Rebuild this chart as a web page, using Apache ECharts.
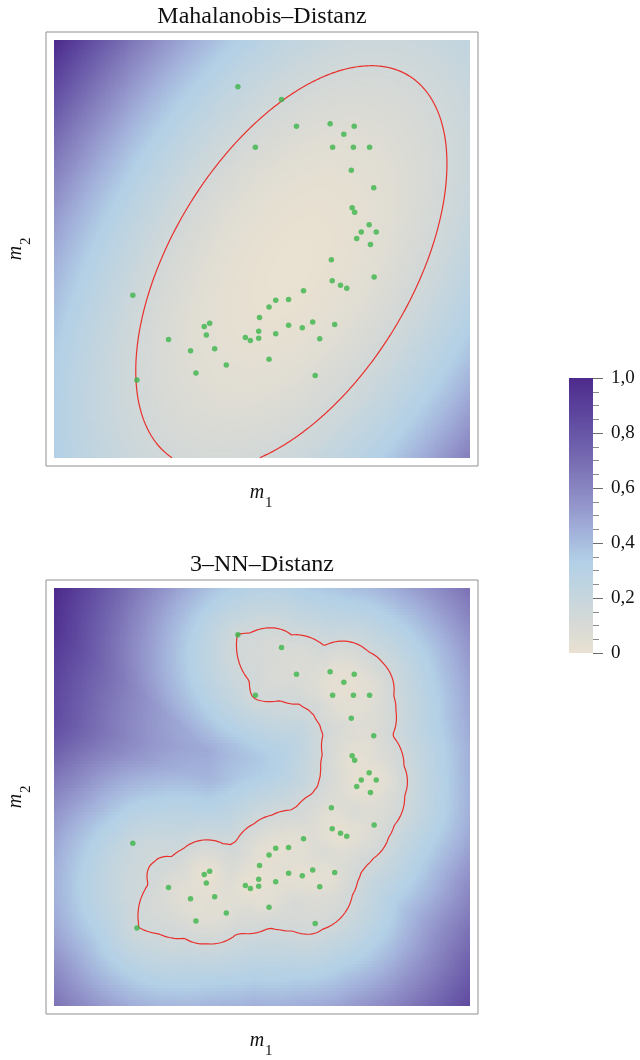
<!DOCTYPE html>
<html>
<head>
<meta charset="utf-8">
<script src="https://cdn.jsdelivr.net/npm/echarts@6/dist/echarts.min.js"></script>
<style>
  html, body { margin: 0; padding: 0; background: #ffffff; }
  #chart { width: 640px; height: 1060px; }
</style>
</head>
<body>
<div id="chart"></div>
<script>
// Measured sample (m1, m2), 51 observations
const m1 = [4.42, 5.47, 5.83, 6.64, 7.22, 6.97, 4.84, 6.70, 7.20, 7.59, 7.15, 7.69, 7.17, 7.23, 7.58, 7.39, 7.75,
            7.28, 7.61, 6.67, 7.70, 6.69, 6.89, 7.04, 6.00, 5.64, 5.33, 5.17, 4.94, 6.22, 6.75, 5.64, 5.97, 4.92,
            5.33, 4.92, 4.72, 4.60, 6.39, 5.17, 6.28, 1.89, 3.74, 3.61, 3.66, 2.75, 3.28, 3.86, 4.14, 3.41, 1.99];
const m2 = [8.89, 8.58, 7.94, 8.00, 7.94, 7.75, 7.44, 7.44, 7.44, 7.44, 6.89, 6.47, 5.99, 5.88, 5.58, 5.41, 5.41,
            5.25, 5.11, 4.74, 4.33, 4.24, 4.13, 4.06, 4.00, 3.79, 3.77, 3.61, 3.36, 3.25, 3.19, 3.17, 3.11, 3.03,
            2.97, 2.86, 2.81, 2.88, 2.85, 2.36, 1.97, 3.89, 3.22, 3.14, 2.94, 2.83, 2.56, 2.61, 2.22, 2.03, 1.86];

const panelTitles = ['Mahalanobis–Distanz', '3–NN–Distanz'];
const colorbarTicks = [0, 0.2, 0.4, 0.6, 0.8, 1.0];
const colorScale = ['#e9e1d1', '#d6d9d6', '#c3d5df', '#b2d0e6', '#a2b0da', '#9090c8', '#7d74b7', '#6a5aa9', '#5a429b', '#4d2a8c'];

const plotRange = [0, 10];          // extent of the evaluated density region
const mahalanobisLevel = 5.66;      // squared Mahalanobis distance of the red ellipse
const kNeighbours = 3;
const knnLevel = 0.875;             // mean 3-NN distance of the red outline

// ---------- distance fields ----------
const n = m1.length;
const meanX = m1.reduce((s, v) => s + v, 0) / n;
const meanY = m2.reduce((s, v) => s + v, 0) / n;
let sxx = 0, syy = 0, sxy = 0;
for (let i = 0; i < n; i++) {
  const dx = m1[i] - meanX, dy = m2[i] - meanY;
  sxx += dx * dx; syy += dy * dy; sxy += dx * dy;
}
sxx /= (n - 1); syy /= (n - 1); sxy /= (n - 1);
const det = sxx * syy - sxy * sxy;
const ixx = syy / det, iyy = sxx / det, ixy = -sxy / det;

// squared Mahalanobis distance to the sample mean
function mahalanobisSq(x, y) {
  const dx = x - meanX, dy = y - meanY;
  return ixx * dx * dx + 2 * ixy * dx * dy + iyy * dy * dy;
}

// mean distance to the k nearest observations
function knnDistance(x, y) {
  const best = [];
  for (let i = 0; i < n; i++) {
    const d = Math.hypot(x - m1[i], y - m2[i]);
    if (best.length < kNeighbours || d < best[best.length - 1]) {
      best.push(d);
      best.sort((a, b) => a - b);
      if (best.length > kNeighbours) best.pop();
    }
  }
  return best.reduce((s, v) => s + v, 0) / kNeighbours;
}

// cell grid, values rescaled to [0, 1] over the plotted region
const CELLS = 140;
const cellStep = (plotRange[1] - plotRange[0]) / CELLS;
function cellData(fn) {
  const raw = [];
  let lo = Infinity, hi = -Infinity;
  for (let i = 0; i < CELLS; i++) {
    for (let j = 0; j < CELLS; j++) {
      const x = plotRange[0] + (i + 0.5) * cellStep;
      const y = plotRange[0] + (j + 0.5) * cellStep;
      const v = fn(x, y);
      lo = Math.min(lo, v); hi = Math.max(hi, v);
      raw.push([x, y, v]);
    }
  }
  return raw.map(r => [r[0], r[1], (r[2] - lo) / (hi - lo)]);
}

// marching squares: iso-line of fn at the given level, chained into polylines
function contourLines(fn, level, N) {
  const h = (plotRange[1] - plotRange[0]) / N;
  const X = i => plotRange[0] + i * h;
  const f = [];
  for (let i = 0; i <= N; i++) {
    f.push([]);
    for (let j = 0; j <= N; j++) f[i].push(fn(X(i), X(j)));
  }
  const keyPt = new Map();
  const segs = [];
  function edgePoint(kind, i, j) {
    const key = kind + i + '_' + j;
    if (!keyPt.has(key)) {
      let p;
      if (kind === 'h') {
        const t = (level - f[i][j]) / (f[i + 1][j] - f[i][j]);
        p = [X(i) + t * h, X(j)];
      } else {
        const t = (level - f[i][j]) / (f[i][j + 1] - f[i][j]);
        p = [X(i), X(j) + t * h];
      }
      keyPt.set(key, p);
    }
    return key;
  }
  for (let i = 0; i < N; i++) {
    for (let j = 0; j < N; j++) {
      const a = f[i][j] > level, b = f[i + 1][j] > level, c = f[i + 1][j + 1] > level, d = f[i][j + 1] > level;
      const code = (a ? 1 : 0) | (b ? 2 : 0) | (c ? 4 : 0) | (d ? 8 : 0);
      if (code === 0 || code === 15) continue;
      const B = () => edgePoint('h', i, j);
      const R = () => edgePoint('v', i + 1, j);
      const T = () => edgePoint('h', i, j + 1);
      const L = () => edgePoint('v', i, j);
      if (code === 5 || code === 10) {
        const centre = (f[i][j] + f[i + 1][j] + f[i + 1][j + 1] + f[i][j + 1]) / 4 > level;
        if ((code === 5) === centre) { segs.push([B(), R()]); segs.push([T(), L()]); }
        else { segs.push([B(), L()]); segs.push([R(), T()]); }
        continue;
      }
      const cross = [];
      if (a !== b) cross.push(B());
      if (b !== c) cross.push(R());
      if (d !== c) cross.push(T());
      if (a !== d) cross.push(L());
      segs.push([cross[0], cross[1]]);
    }
  }
  const byKey = new Map();
  segs.forEach((s, idx) => s.forEach(k => {
    if (!byKey.has(k)) byKey.set(k, []);
    byKey.get(k).push(idx);
  }));
  const used = new Array(segs.length).fill(false);
  function walk(key) {
    const out = [];
    for (;;) {
      const next = byKey.get(key).find(k => !used[k]);
      if (next === undefined) break;
      used[next] = true;
      const s = segs[next];
      key = s[0] === key ? s[1] : s[0];
      out.push(key);
    }
    return out;
  }
  const lines = [];
  segs.forEach((s, idx) => {
    if (used[idx]) return;
    used[idx] = true;
    const fwd = walk(s[1]);
    const back = walk(s[0]).reverse();
    const keys = back.concat([s[0], s[1]], fwd);
    lines.push({ coords: keys.map(k => keyPt.get(k)) });
  });
  return lines;
}

const points = m1.map((v, i) => [v, m2[i]]);
const fields = [mahalanobisSq, knnDistance];
const levels = [mahalanobisLevel, knnLevel];
const contourGrid = [240, 170];

// ---------- layout ----------
const panelTops = [32, 580];
const frame = { left: 46, width: 432, height: 434 };
const serif = '"Liberation Serif", "DejaVu Serif", serif';

function heatRender(params, api) {
  const x = api.value(0), y = api.value(1);
  const a = api.coord([x - cellStep / 2, y + cellStep / 2]);
  const b = api.coord([x + cellStep / 2, y - cellStep / 2]);
  const x0 = Math.round(a[0]), y0 = Math.round(a[1]);
  const x1 = Math.round(b[0]), y1 = Math.round(b[1]);
  return {
    type: 'rect',
    shape: { x: x0, y: y0, width: x1 - x0, height: y1 - y0 },
    style: { fill: api.visual('color') },
    silent: true
  };
}

const BAR_STEPS = 200;
const barData = [];
for (let k = 0; k < BAR_STEPS; k++) {
  const v = (k + 0.5) / BAR_STEPS;
  barData.push([0.5, v, v]);
}
function barRender(params, api) {
  const v = api.value(1);
  const a = api.coord([0, v + 0.5 / BAR_STEPS]);
  const b = api.coord([1, v - 0.5 / BAR_STEPS]);
  const y0 = Math.round(a[1]), y1 = Math.round(b[1]);
  return {
    type: 'rect',
    shape: { x: a[0], y: y0, width: b[0] - a[0], height: Math.max(y1 - y0, 1) },
    style: { fill: api.visual('color') },
    silent: true
  };
}

const grids = [], xAxes = [], yAxes = [], series = [], graphics = [];
panelTops.forEach((top, p) => {
  grids.push({
    left: frame.left, top: top, width: frame.width, height: frame.height,
    show: true, backgroundColor: '#ffffff', borderColor: '#8f8f8f', borderWidth: 1
  });
  xAxes.push({ gridIndex: p, type: 'value', min: -0.2, max: 10.2, show: false });
  yAxes.push({ gridIndex: p, type: 'value', min: -0.2, max: 10.2, show: false });

  series.push({
    type: 'custom', name: 'field' + p, xAxisIndex: p, yAxisIndex: p,
    data: cellData(fields[p]), renderItem: heatRender, progressive: 0,
    encode: { x: 0, y: 1 }, silent: true, z: 1
  });
  series.push({
    type: 'lines', coordinateSystem: 'cartesian2d', xAxisIndex: p, yAxisIndex: p,
    polyline: true, data: contourLines(fields[p], levels[p], contourGrid[p]),
    lineStyle: { color: '#e8302c', width: 1.2, opacity: 1 }, silent: true, z: 3
  });
  series.push({
    type: 'scatter', xAxisIndex: p, yAxisIndex: p, data: points,
    symbolSize: 5.5, itemStyle: { color: '#3bb54b' }, silent: true, z: 4
  });

  const cx = frame.left + frame.width / 2;
  graphics.push({
    type: 'text', x: cx, y: top - 15,
    style: { text: panelTitles[p], font: '24px ' + serif, fill: '#111', textAlign: 'center', textVerticalAlign: 'middle' }
  });
  graphics.push({
    type: 'text', x: cx - 5, y: top + frame.height + 27,
    style: { text: 'm', font: 'italic 20px ' + serif, fill: '#111', textAlign: 'center', textVerticalAlign: 'middle' }
  });
  graphics.push({
    type: 'text', x: cx + 3, y: top + frame.height + 37,
    style: { text: '1', font: '15px ' + serif, fill: '#111', textAlign: 'left', textVerticalAlign: 'middle' }
  });
  const cy = top + frame.height / 2;
  graphics.push({
    type: 'text', x: 16, y: cy + 4, rotation: Math.PI / 2,
    style: { text: 'm', font: 'italic 20px ' + serif, fill: '#111', textAlign: 'center', textVerticalAlign: 'middle' }
  });
  graphics.push({
    type: 'text', x: 26, y: cy - 4, rotation: Math.PI / 2,
    style: { text: '2', font: '15px ' + serif, fill: '#111', textAlign: 'left', textVerticalAlign: 'middle' }
  });
});

// colour bar
grids.push({ left: 569, top: 378, width: 24, height: 275 });
xAxes.push({ gridIndex: 2, type: 'value', min: 0, max: 1, show: false });
yAxes.push({
  gridIndex: 2, type: 'value', position: 'right', min: 0, max: 1, interval: 0.2,
  axisLine: { show: true, onZero: false, lineStyle: { color: 'rgba(0,0,0,0)', width: 1 } },
  axisTick: { show: true, inside: false, length: 10, lineStyle: { color: '#6b6b6b', width: 1 } },
  minorTick: { show: true, splitNumber: 4, length: 6, lineStyle: { color: '#8a8a8a', width: 1 } },
  splitLine: { show: false },
  axisLabel: {
    show: true, margin: 18, fontFamily: serif, fontSize: 19, color: '#111',
    formatter: v => colorbarTicks.indexOf(+v.toFixed(1)) >= 0
      ? (v === 0 ? '0' : v.toFixed(1).replace('.', ',')) : ''
  }
});
series.push({
  type: 'custom', name: 'colourbar', xAxisIndex: 2, yAxisIndex: 2,
  data: barData, renderItem: barRender, encode: { x: 0, y: 1 }, silent: true
});

const chart = echarts.init(document.getElementById('chart'), null, { renderer: 'canvas' });
chart.setOption({
  animation: false,
  backgroundColor: '#ffffff',
  grid: grids,
  xAxis: xAxes,
  yAxis: yAxes,
  visualMap: {
    type: 'continuous', show: false, min: 0, max: 1, dimension: 2,
    seriesIndex: [0, 3, 6], inRange: { color: colorScale }
  },
  series: series,
  graphic: graphics
});
</script>
</body>
</html>
